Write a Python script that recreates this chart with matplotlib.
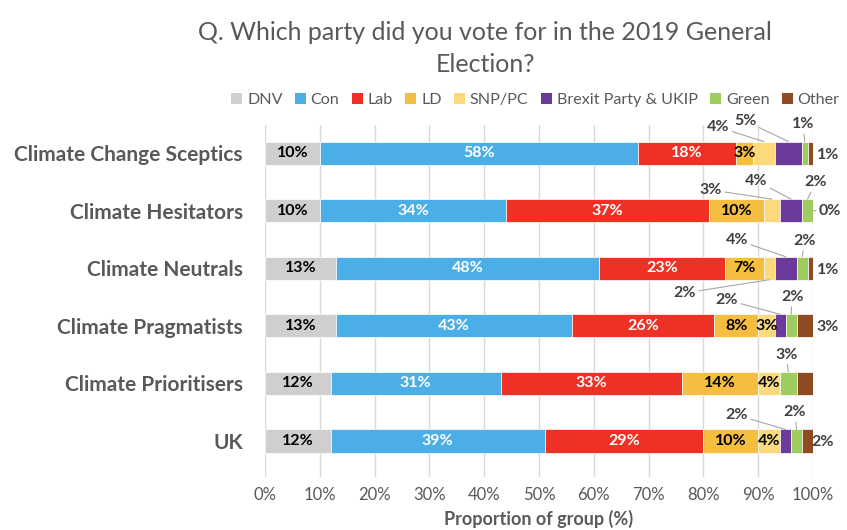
import numpy as np
import matplotlib.pyplot as plt
from matplotlib.patches import Patch

# ── Data ───────────────────────────────────────────────────────────────────────
groups = ['Climate Change Sceptics', 'Climate Hesitators', 'Climate Neutrals',
          'Climate Pragmatists', 'Climate Prioritisers', 'UK']
parties = ['DNV', 'Con', 'Lab', 'LD', 'SNP/PC', 'Brexit Party & UKIP', 'Green', 'Other']

dnv = [10, 10, 13, 13, 12, 12]
con = [58, 34, 48, 43, 31, 39]
lab = [18, 37, 23, 26, 33, 29]
ld = [3, 10, 7, 8, 14, 10]
snp = [4, 3, 2, 3, 4, 4]
brexit = [5, 4, 4, 2, 0, 2]
green = [1, 2, 2, 2, 3, 2]
other = [1, 0, 1, 3, 3, 2]

colors = ['#d0cece', '#4baee6', '#ee3124', '#f5be41', '#fbd97c',
          '#6b3a9b', '#9fcc5e', '#8e4a20']

# segments labelled inside the bar, per row (index into parties)
inside = [[0, 1, 2, 3], [0, 1, 2, 3], [0, 1, 2, 3],
          [0, 1, 2, 3, 4], [0, 1, 2, 3, 4], [0, 1, 2, 3, 4]]

# outside labels: (row, party index, text x in %, text y offset in rows, leader line)
callouts = [
    (0, 4, 82.7, -0.45, True), (0, 5, 87.6, -0.56, True), (0, 6, 98.2, -0.50, True),
    (0, 7, 102.7, 0.03, False),
    (1, 4, 81.4, -0.36, True), (1, 5, 89.6, -0.52, True), (1, 6, 100.4, -0.49, True),
    (1, 7, 103.1, 0.0, True),
    (2, 5, 86.1, -0.49, True), (2, 6, 98.5, -0.47, True), (2, 7, 102.7, 0.03, False),
    (2, 4, 76.6, 0.43, True),
    (3, 5, 84.3, -0.45, True), (3, 6, 96.2, -0.50, True), (3, 7, 102.6, 0.02, False),
    (4, 6, 95.1, -0.50, True),
    (5, 5, 86.1, -0.45, True), (5, 6, 96.7, -0.50, True), (5, 7, 101.8, 0.02, False),
]

# ── Plot ───────────────────────────────────────────────────────────────────────
plt.rcParams['font.family'] = ['Lato', 'DejaVu Sans']
GREY = '#595959'
DARK = '#404040'

vals = np.array([dnv, con, lab, ld, snp, brexit, green, other]).T  # rows x parties
lefts = np.cumsum(vals, axis=1) - vals
y = np.arange(len(groups))
bar_h = 0.4

fig = plt.figure(figsize=(8.47, 5.30), dpi=100)
ax = fig.add_axes([0.3129, 0.1, 0.647, 0.664])

for j, p in enumerate(parties):
    ax.barh(y, vals[:, j], left=lefts[:, j], height=bar_h, color=colors[j],
            edgecolor='white', linewidth=0.5, zorder=3, label=p)

# inside labels
for i in range(len(groups)):
    for j in inside[i]:
        cx = lefts[i, j] + vals[i, j] / 2
        tc = 'white' if j in (1, 2) else 'black'
        ax.text(cx, y[i], f'{vals[i, j]}%', ha='center', va='center',
                fontsize=11.5, fontweight='bold', color=tc, zorder=4)

# outside labels with leader lines
for i, j, tx, ty, line in callouts:
    txt = f'{vals[i, j]}%'
    cx = lefts[i, j] + vals[i, j] / 2
    if not line:
        ax.text(tx, y[i] + ty, txt, ha='center', va='center', fontsize=11.5,
                fontweight='bold', color=DARK, zorder=4)
        continue
    if j == 7 and vals[i, j] == 0:
        end = (100, y[i])
    elif ty < 0:
        end = (cx, y[i] - bar_h / 2)
    else:
        end = (cx, y[i] + bar_h / 2)
    ax.annotate(txt, xy=end, xytext=(tx, y[i] + ty), ha='center', va='center',
                fontsize=11.5, fontweight='bold', color=DARK, zorder=4,
                annotation_clip=False,
                arrowprops=dict(arrowstyle='-', color='#a6a6a6', lw=0.8,
                                shrinkA=0, shrinkB=0))

ax.set_xlim(0, 100)
ax.set_ylim(5.625, -0.486)
ax.set_xticks(np.arange(0, 101, 10))
ax.set_xticklabels([f'{t}%' for t in range(0, 101, 10)])
ax.tick_params(axis='x', length=0, labelsize=12, labelcolor=GREY, pad=7)
ax.set_yticks(y)
ax.set_yticklabels(groups)
ax.tick_params(axis='y', length=0, labelsize=15, labelcolor=GREY, pad=16)
for lbl in ax.get_yticklabels():
    lbl.set_fontweight('bold')
ax.grid(axis='x', color='#d9d9d9', linewidth=1, zorder=0)
ax.set_axisbelow(True)
for s in ax.spines.values():
    s.set_visible(False)
ax.set_xlabel('Proportion of group (%)', fontsize=13, fontweight='bold',
              color=GREY, labelpad=5)

fig.text(0.573, 0.909, 'Q. Which party did you vote for in the 2019 General\nElection?',
         ha='center', va='center', fontsize=18, color=GREY, linespacing=1.45)

handles = [Patch(facecolor=c) for c in colors]
fig.legend(handles, parties, loc='center', bbox_to_anchor=(0.632, 0.811), ncol=8,
           frameon=False, fontsize=11.6, handlelength=0.7, handleheight=0.7,
           handletextpad=0.3, columnspacing=0.75, labelcolor=GREY,
           borderaxespad=0, borderpad=0)

plt.savefig('out.png', dpi=100)
plt.close()
